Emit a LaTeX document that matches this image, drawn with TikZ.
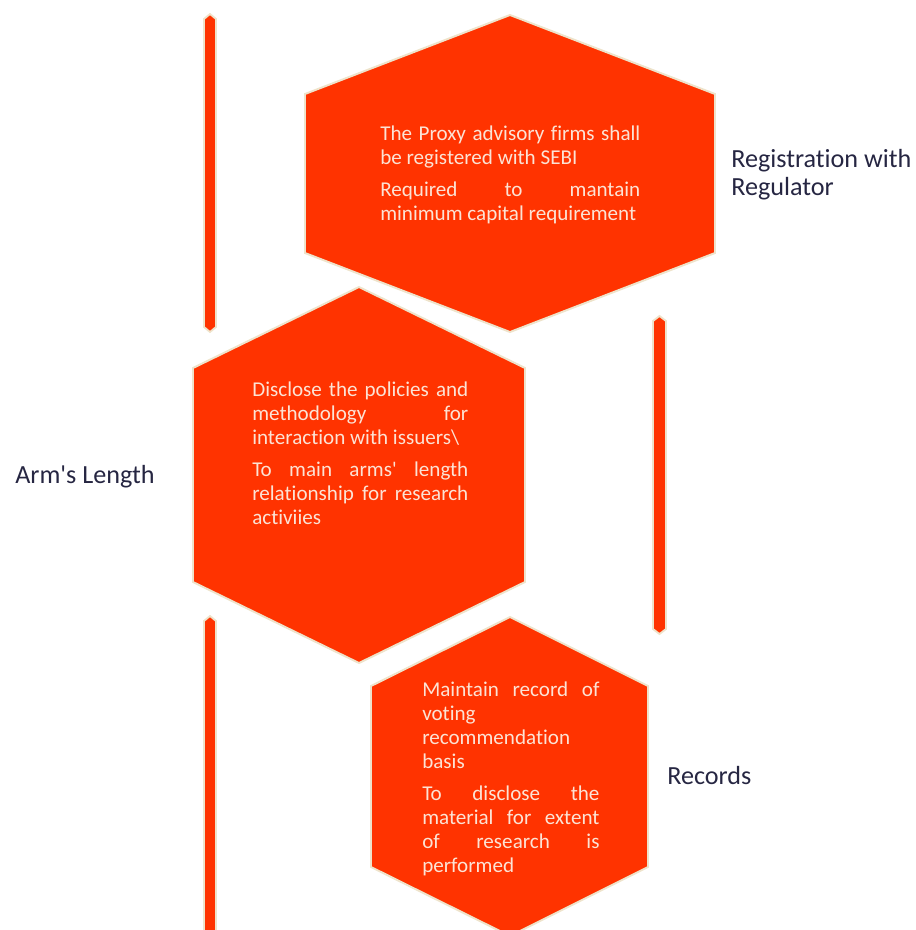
\documentclass[tikz,border=0pt]{standalone}
\usepackage{fontspec}
\setmainfont{Carlito}[Ligatures={TeXOff,CommonOff}]
\usepackage{tikz}
\definecolor{cellred}{HTML}{FF3300}
\definecolor{celledge}{HTML}{EEE3CB}
\definecolor{cellink}{HTML}{FCE3D5}
\definecolor{capink}{HTML}{262642}
\tikzset{cell/.style={fill=cellred, draw=celledge, line width=1.4pt},
         bar/.style={fill=cellred, draw=celledge, line width=1.3pt},
         celltext/.style={anchor=north west, inner sep=0pt, text=cellink,
                          align=justify, font=\fontsize{15}{17.07}\selectfont},
         caption/.style={anchor=west, inner sep=0pt, text=capink, align=left,
                         font=\fontsize{18.6}{19.9}\selectfont}}

\begin{document}
\begin{tikzpicture}[x=0.025cm,y=-0.025cm]
\clip (0,0) rectangle (916,930);

% thin bars
\draw[bar] (204,19) -- (210,14) -- (216,19) -- (216,327) -- (210,332) -- (204,327) -- cycle;
\draw[bar] (653,321) -- (659.5,316) -- (666,321) -- (666,629) -- (659.5,634) -- (653,629) -- cycle;
\draw[bar] (204,621) -- (210,616) -- (216,621) -- (216,950) -- (204,950) -- cycle;

% hexagons
\draw[cell] (305,94) -- (510,15) -- (715,94) -- (715,253) -- (510,332) -- (305,253) -- cycle;
\draw[cell] (193,368) -- (359,287) -- (525,368) -- (525,582) -- (359,663) -- (193,582) -- cycle;
\draw[cell] (371,686) -- (510,617) -- (648,686) -- (648,867) -- (510,936) -- (371,867) -- cycle;

% texts inside
\node[celltext, text width=6.5cm] (regtext) at (380,126)
  {The Proxy advisory firms shall\linebreak be registered with SEBI\\[5.7pt]
   Required to mantain\linebreak minimum capital requirement};
\node[celltext, text width=5.4cm] (armtext) at (252,382)
  {Disclose the policies and\linebreak methodology for\linebreak interaction with issuers\textbackslash\\[5.7pt]
   To main arms' length\linebreak relationship for research\linebreak activiies};
\node[celltext, text width=4.43cm] (rectext) at (422,682)
  {Maintain record of\linebreak voting\\ recommendation\\ basis\\[5.7pt]
   To disclose the\linebreak material for extent\linebreak of research is\linebreak performed};

% captions
\node[caption] (reg) at (731,175) {Registration with\\Regulator};
\node[caption] (arm) at (15,477) {Arm's Length};
\node[caption] (rec) at (667,776) {Records};

\end{tikzpicture}
\end{document}
